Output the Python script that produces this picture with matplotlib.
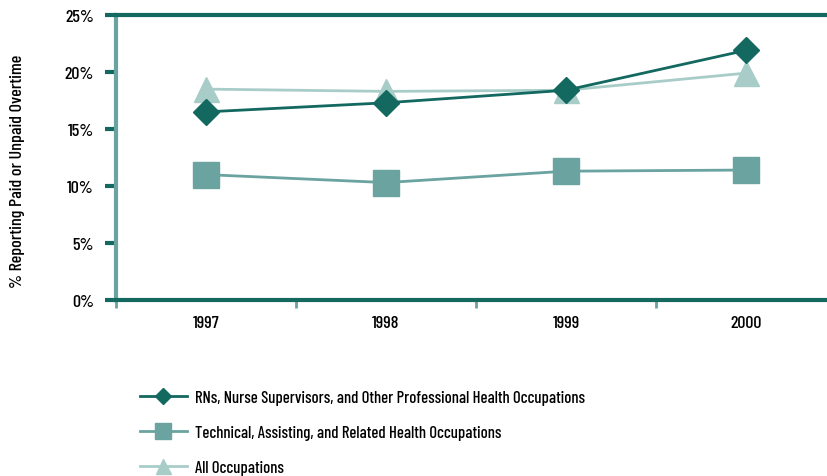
import numpy as np
import matplotlib.pyplot as plt

plt.rcParams['font.family'] = ['Barlow Condensed', 'DejaVu Sans']
plt.rcParams['font.weight'] = 500

# Data
years = ['1997', '1998', '1999', '2000']
rns = [16.5, 17.3, 18.4, 21.9]
technical = [11.0, 10.3, 11.3, 11.4]
all_occ = [18.5, 18.3, 18.4, 19.9]
labels = ['RNs, Nurse Supervisors, and Other Professional Health Occupations',
          'Technical, Assisting, and Related Health Occupations',
          'All Occupations']

dark = '#136860'
mid = '#6aa3a0'
light = '#a8cdc9'
fs = 13

fig = plt.figure(figsize=(8.28, 4.77), dpi=100)
ax = fig.add_axes([116 / 828, 1 - 301 / 477, 720 / 828, 285 / 477])

x = np.arange(len(years))
h1, = ax.plot(x, all_occ, color=light, lw=2, marker='^', ms=18, zorder=3)
h2, = ax.plot(x, technical, color=mid, lw=2, marker='s', ms=19, zorder=3)
h3, = ax.plot(x, rns, color=dark, lw=2, marker='D', ms=13.5, zorder=4)

ax.set_xlim(-0.5, 3.5)
ax.set_ylim(0, 25)
ax.set_yticks(range(0, 26, 5))
ax.set_yticklabels([f'{v}%' for v in range(0, 26, 5)], fontsize=fs)
ax.set_xticks(x)
ax.set_xticklabels(years, fontsize=fs)
ax.set_xticks(np.arange(-0.5, 3.6, 1), minor=True)
ax.tick_params(axis='x', which='major', length=0, pad=11)
ax.tick_params(axis='x', which='minor', length=6, width=2, color=mid, direction='out')
ax.tick_params(axis='y', length=8, width=3, color=dark, pad=8)

ax.spines['right'].set_visible(False)
ax.spines['top'].set_color(dark)
ax.spines['top'].set_linewidth(3)
ax.spines['bottom'].set_color(dark)
ax.spines['bottom'].set_linewidth(3)
ax.spines['left'].set_color(mid)
ax.spines['left'].set_linewidth(3)

fig.text(18 / 828, 1 - 171 / 477, '% Reporting Paid or Unpaid Overtime', rotation=90,
         ha='center', va='center', fontsize=fs)

fig.legend([h3, h2, h1], labels, loc='upper left', bbox_to_anchor=(125 / 828, 1 - 376 / 477),
           frameon=False, fontsize=12, handlelength=2.8, markerscale=0.6,
           labelspacing=1.2, handletextpad=0.5)

fig.savefig('out.png', dpi=100)
